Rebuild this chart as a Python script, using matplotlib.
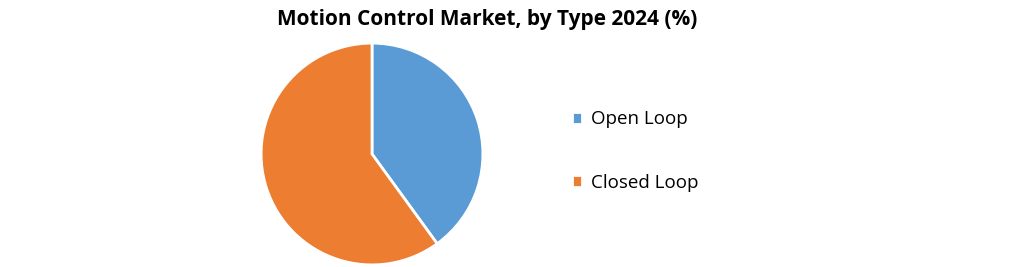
import matplotlib.pyplot as plt

labels = ['Open Loop', 'Closed Loop']
shares = [40, 60]
colors = ['#5B9BD5', '#ED7D31']

W, H = 1021, 267
fig = plt.figure(figsize=(W / 100, H / 100), dpi=100)
plt.rcParams['font.family'] = ['Open Sans', 'DejaVu Sans']

# pie centred near (372, 154) px with radius ~111 px
cx, cy, r = 372, 154, 112
ax = fig.add_axes([(cx - r) / W, (H - cy - r) / H, 2 * r / W, 2 * r / H])
wedges, _ = ax.pie(shares, colors=colors, startangle=90, counterclock=False,
                   radius=1, wedgeprops=dict(edgecolor='white', linewidth=2))
ax.set_xlim(-1.01, 1.01)
ax.set_ylim(-1.01, 1.01)
ax.set_aspect('equal')
ax.axis('off')

fig.text(487 / W, (H - 19) / H, 'Motion Control Market, by Type 2024 (%)',
         ha='center', va='center', fontsize=15, fontweight='bold')

fig.legend(wedges, labels, loc='center left', bbox_to_anchor=(555 / W, (H - 151) / H),
           frameon=False, fontsize=13.5, handlelength=0.55, handleheight=0.55,
           handletextpad=0.45, labelspacing=2.4)

fig.savefig('out.png', dpi=100)
